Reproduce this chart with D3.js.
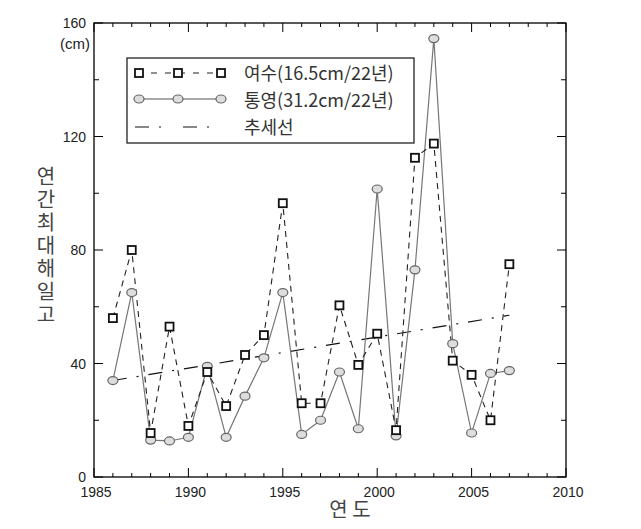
<!DOCTYPE html>
<html><head><meta charset="utf-8">
<script src="https://cdn.jsdelivr.net/npm/d3@7"></script>
<style>body{margin:0;background:#fff}svg{display:block}</style>
</head><body>
<svg id="c" width="641" height="529"></svg>
<script>
const years = [1986,1987,1988,1989,1990,1991,1992,1993,1994,1995,1996,1997,1998,1999,2000,2001,2002,2003,2004,2005,2006,2007];
const yeosu = [56,80,15.5,53,18,37,25,43,50,96.5,26,26,60.5,39.5,50.5,16.5,112.5,117.5,41,36,20,75];
const tongyeong = [34,65,13,12.7,14,39,14,28.5,42,65,15,20,37,17,101.5,14.5,73,154.5,47,15.5,36.5,37.5];
const trendYears = [1986,2007];
const trendValues = [34,57];
const xTicks = [1985,1990,1995,2000,2005,2010];
const yTicks = [0,40,80,120,160];
const legendLabels = ["여수(16.5cm/22년)","통영(31.2cm/22년)","추세선"];
const yTitle = "연간최대해일고";
const xTitle = "연 도";

const svg = d3.select("#c");
const L=94,R=566,T=23,B=477;
const x = d3.scaleLinear().domain([1985,2010]).range([L,R]);
const y = d3.scaleLinear().domain([0,160]).range([B,T]);
const font = "'Liberation Sans', Arial, sans-serif";
const kfont = "'Noto Sans CJK KR', sans-serif";

svg.append("rect").attr("x",L).attr("y",T).attr("width",R-L).attr("height",B-T)
  .attr("fill","none").attr("stroke","#000").attr("stroke-width",1.3);

const g = svg.append("g");
d3.range(1985,2011).forEach(v=>{
  const maj = v%5===0, len = maj?9:4;
  g.append("line").attr("x1",x(v)).attr("x2",x(v)).attr("y1",B).attr("y2",B-len).attr("stroke","#000");
  g.append("line").attr("x1",x(v)).attr("x2",x(v)).attr("y1",T).attr("y2",T+len).attr("stroke","#000");
});
d3.range(0,161,20).forEach(v=>{
  const maj = v%40===0, len = maj?9:5;
  g.append("line").attr("x1",L).attr("x2",L+len).attr("y1",y(v)).attr("y2",y(v)).attr("stroke","#000");
  g.append("line").attr("x1",R).attr("x2",R-len).attr("y1",y(v)).attr("y2",y(v)).attr("stroke","#000");
});
xTicks.forEach(v=>{
  svg.append("text").attr("x",x(v)+2).attr("y",B+20).attr("text-anchor","middle")
    .attr("font-family",font).attr("font-size",14).attr("fill","#222").text(v);
});
yTicks.forEach(v=>{
  svg.append("text").attr("x",L-8).attr("y",y(v)+5).attr("text-anchor","end")
    .attr("font-family",font).attr("font-size",14).attr("fill","#222").text(v);
});
svg.append("text").attr("x",L-4).attr("y",49).attr("text-anchor","end")
  .attr("font-family",font).attr("font-size",15).attr("fill","#222").text("(cm)");

svg.append("text").attr("x",46).attr("y",166)
  .attr("style","writing-mode:vertical-rl;text-orientation:upright;letter-spacing:3px")
  .attr("font-family",kfont).attr("font-size",20).attr("fill","#444").text(yTitle);
svg.append("text").attr("x",350).attr("y",517).attr("text-anchor","middle")
  .attr("font-family",kfont).attr("font-size",20).attr("fill","#444").text(xTitle);

const line = d3.line().x(d=>x(d[0])).y(d=>y(d[1]));
svg.append("path").attr("d",line(d3.zip(trendYears,trendValues))).attr("fill","none")
  .attr("stroke","#111").attr("stroke-width",1.2).attr("stroke-dasharray","14,10,2,10");

svg.append("path").attr("d",line(d3.zip(years,tongyeong))).attr("fill","none")
  .attr("stroke","#777").attr("stroke-width",1.2);
svg.append("path").attr("d",line(d3.zip(years,yeosu))).attr("fill","none")
  .attr("stroke","#222").attr("stroke-width",1.1).attr("stroke-dasharray","6,5");

function circ(sel,cx,cy){
  sel.append("ellipse").attr("cx",cx).attr("cy",cy).attr("rx",5).attr("ry",4)
    .attr("fill","#ddd").attr("stroke","#666").attr("stroke-width",1.2);
}
function sq(sel,cx,cy){
  sel.append("rect").attr("x",cx-4).attr("y",cy-4).attr("width",8).attr("height",8)
    .attr("fill","#fff").attr("stroke","#111").attr("stroke-width",1.8);
}
years.forEach((yr,i)=>circ(svg,x(yr),y(tongyeong[i])));
years.forEach((yr,i)=>sq(svg,x(yr),y(yeosu[i])));

const lg = svg.append("g");
lg.append("rect").attr("x",127).attr("y",58).attr("width",287).attr("height",85)
  .attr("fill","#fff").attr("stroke","#222").attr("stroke-width",1.3);
lg.append("line").attr("x1",137).attr("x2",222).attr("y1",73).attr("y2",73)
  .attr("stroke","#222").attr("stroke-width",1.1).attr("stroke-dasharray","6,8");
[139,178,221].forEach(px=>sq(lg,px,73));
lg.append("line").attr("x1",139).attr("x2",221).attr("y1",99).attr("y2",99).attr("stroke","#555").attr("stroke-width",1.2);
[139,178,221].forEach(px=>circ(lg,px,99));
lg.append("line").attr("x1",135).attr("x2",228).attr("y1",127).attr("y2",127)
  .attr("stroke","#111").attr("stroke-width",1.2).attr("stroke-dasharray","14,10,2,22");
legendLabels.forEach((t,i)=>{
  lg.append("text").attr("x",244).attr("y",80+i*27).attr("font-family",kfont).attr("font-size",18)
    .attr("fill","#333").text(t);
});
</script>
</body></html>
